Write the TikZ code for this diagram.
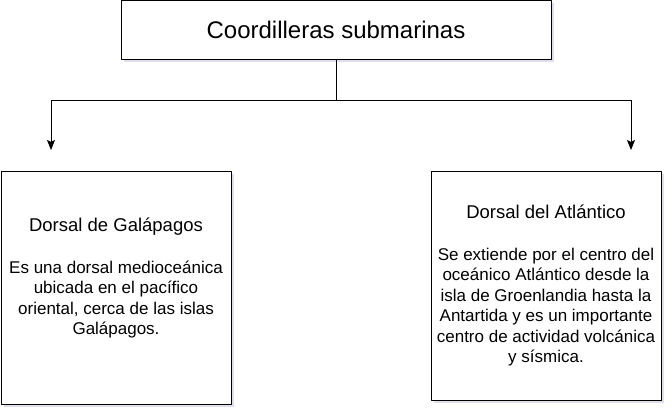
\documentclass[tikz,border=0pt]{standalone}
\usepackage{fontspec}
\setmainfont{Liberation Sans}
\usetikzlibrary{arrows.meta,shadows}
\tikzset{
  box/.style={draw, line width=1pt, fill=white, inner sep=0pt, align=center,
    drop shadow={shadow xshift=2.5pt, shadow yshift=-2.5pt, fill=blue!30!gray!40, opacity=0.5}},
  conn/.style={line width=0.9pt},
}
\newcommand{\bodysize}{\fontsize{17}{20.5}\selectfont}
\newcommand{\headsize}{\fontsize{18.5}{22}\selectfont}
\begin{document}
\begin{tikzpicture}[x=1pt, y=-1pt, line join=round, >={Stealth[length=10pt,width=8pt,inset=2pt]}]
		\useasboundingbox (0,0) rectangle (672,412);
		\node[box, minimum width=430, minimum height=59.5, font=\fontsize{24}{28}\selectfont] (root) at (336,30) {Coordilleras submarinas};
		\node[box, minimum width=230, minimum height=233, font=\bodysize] (gal) at (116,287.5)
			{{\headsize Dorsal de Galápagos}\\[21pt]
			Es una dorsal medioceánica\\ ubicada en el pacífico\\ oriental, cerca de las islas\\ Galápagos.\\[2pt]\mbox{}};
		\node[box, minimum width=230, minimum height=229, font=\bodysize] (atl) at (546,285.5)
			{{\headsize Dorsal del Atlántico}\\[21pt]
			Se extiende por el centro del\\ oceánico Atlántico desde la\\ isla de Groenlandia hasta la\\ Antartida y es un importante\\ centro de actividad volcánica\\ y sísmica.};
		\path
			(root.south)+(0,40) coordinate (J)
			(51,100) coordinate (L)
			(631,100) coordinate (R)
			(L)+(0,50) coordinate (L')
			(R)+(0,50) coordinate (R');
		\draw[conn] (root.south)--(J) (L)--(R);
		\foreach \p in {L,R}
		\draw[conn,->] (\p)--(\p');
\end{tikzpicture}
\end{document}
